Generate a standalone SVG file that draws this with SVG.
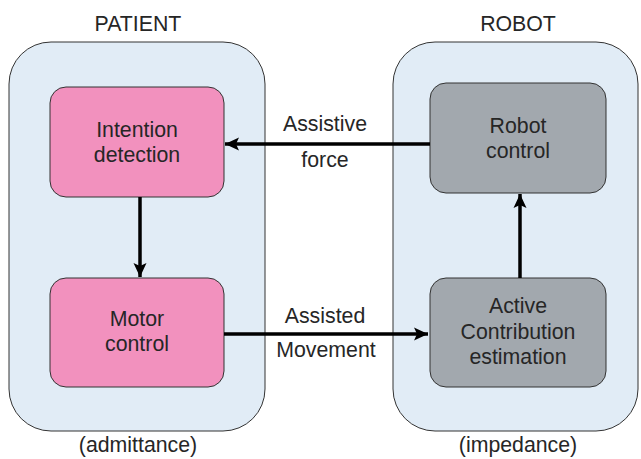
<svg xmlns="http://www.w3.org/2000/svg" width="641" height="459" viewBox="0 0 641 459">
<defs>
<style>
text{font-family:"Liberation Sans",Arial,sans-serif;fill:#262626;text-anchor:middle;font-size:21.3px}
.cont{fill:#e1ecf6;stroke:#333;stroke-width:1}
.pink{fill:#f291be;stroke:#333;stroke-width:1}
.grey{fill:#a2a8ae;stroke:#333;stroke-width:1}
.conn{stroke:#000;stroke-width:3.5;fill:none;marker-end:url(#ah)}
</style>
<marker id="ah" markerWidth="16" markerHeight="14" refX="14" refY="7" orient="auto" markerUnits="userSpaceOnUse">
<path d="M0,0.5 L14,7 L0,13.5 L3,7 Z" fill="#000"/>
</marker>
</defs>
<g id="patient">
<rect class="cont" x="9" y="42" width="256" height="389" rx="42"/>
<text x="138" y="31">PATIENT</text>
<text x="138" y="452">(admittance)</text>
</g>
<g id="robot">
<rect class="cont" x="393" y="42" width="245" height="389" rx="42"/>
<text x="518" y="31">ROBOT</text>
<text x="518" y="452">(impedance)</text>
</g>
<g id="intention">
<rect class="pink" x="50" y="87" width="174" height="110" rx="16"/>
<text x="137" y="137">Intention</text>
<text x="137" y="162">detection</text>
</g>
<g id="motor">
<rect class="pink" x="50" y="278" width="174" height="109" rx="16"/>
<text x="137" y="326">Motor</text>
<text x="137" y="351">control</text>
</g>
<g id="robotcontrol">
<rect class="grey" x="430" y="83" width="176" height="110" rx="16"/>
<text x="518" y="133">Robot</text>
<text x="518" y="158">control</text>
</g>
<g id="active">
<rect class="grey" x="430" y="278" width="176" height="109" rx="16"/>
<text x="518" y="313">Active</text>
<text x="518" y="339">Contribution</text>
<text x="518" y="364">estimation</text>
</g>
<g id="connectors">
<line class="conn" x1="430" y1="144" x2="225" y2="144"/>
<line class="conn" x1="140" y1="197" x2="140" y2="277"/>
<line class="conn" x1="224" y1="334" x2="428" y2="334"/>
<line class="conn" x1="520" y1="278" x2="520" y2="194"/>
<text x="325" y="131">Assistive</text>
<text x="325" y="167">force</text>
<text x="325" y="323">Assisted</text>
<text x="326" y="357">Movement</text>
</g>
</svg>
